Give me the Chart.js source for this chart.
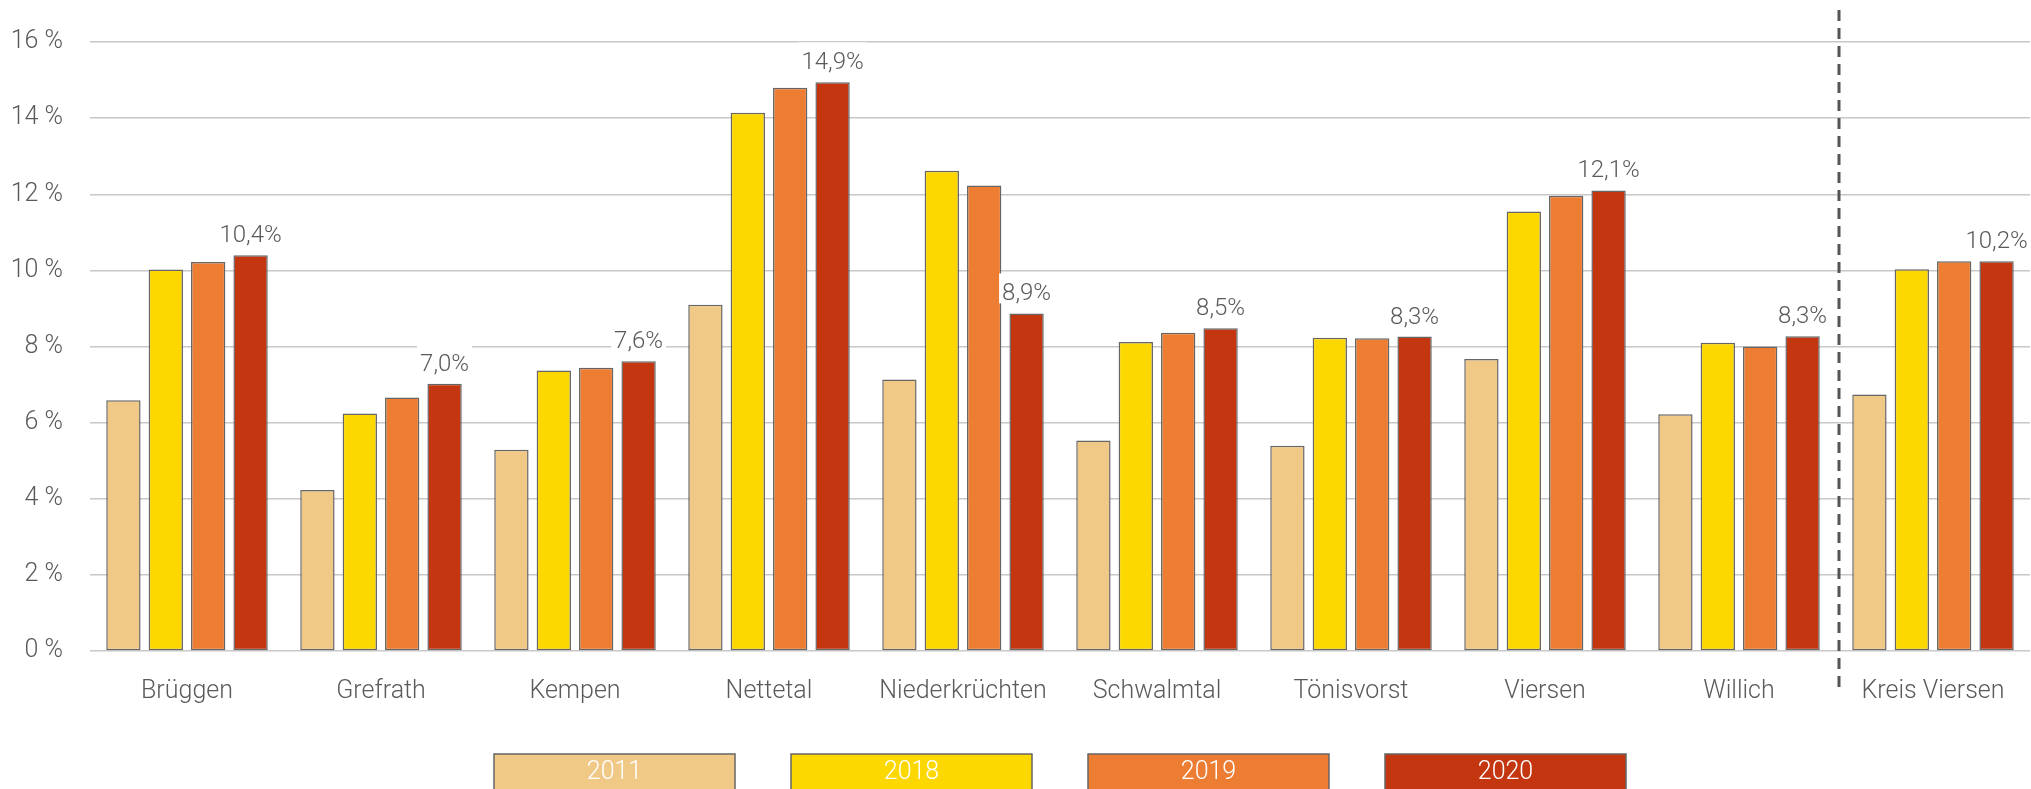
<!DOCTYPE html>
<html>
<head>
<meta charset="utf-8">
<script src="https://cdn.jsdelivr.net/npm/chart.js@4/dist/chart.umd.min.js"></script>
<style>
  html, body { margin: 0; padding: 0; background: #fff; }
  #wrap { width: 2031px; height: 789px; position: relative; }
</style>
</head>
<body>
<div id="wrap"><canvas id="myChart"></canvas></div>
<script>
// chart data
const towns = ['Brüggen', 'Grefrath', 'Kempen', 'Nettetal', 'Niederkrüchten', 'Schwalmtal', 'Tönisvorst', 'Viersen', 'Willich', 'Kreis Viersen'];
const years = ['2011', '2018', '2019', '2020'];
const values2011 = [6.59, 4.23, 5.29, 9.10, 7.13, 5.53, 5.39, 7.67, 6.22, 6.74];
const values2018 = [10.02, 6.24, 7.37, 14.14, 12.62, 8.12, 8.23, 11.55, 8.10, 10.03];
const values2019 = [10.22, 6.66, 7.44, 14.80, 12.23, 8.36, 8.22, 11.96, 8.00, 10.24];
const values2020 = [10.40, 7.02, 7.61, 14.94, 8.87, 8.48, 8.26, 12.10, 8.27, 10.24];
const yTicks = [0, 2, 4, 6, 8, 10, 12, 14, 16];

const colors = ['#F0C987', '#FDD700', '#EC7D32', '#C4360F'];
const textColor = '#5a5a5a';
const fontFam = 'Roboto, "DejaVu Sans", sans-serif';

//draws the value labels above the 2020 bars
const valueLabels = {
  id: 'valueLabels',
  afterDatasetsDraw(chart) {
    const ctx = chart.ctx;
    const meta = chart.getDatasetMeta(3);
    const data = chart.data.datasets[3].data;
    ctx.save();
    ctx.font = '300 24px ' + fontFam;
    ctx.textAlign = 'center';
    ctx.textBaseline = 'alphabetic';
    meta.data.forEach(function (bar, i) {
      const txt = data[i].toFixed(1).replace('.', ',') + '%';
      const w = ctx.measureText(txt).width;
      const yb = bar.y - 13;
      ctx.fillStyle = '#fff';
      ctx.fillRect(bar.x - w / 2 - 3, yb - 27, w + 6, 30);
      ctx.fillStyle = textColor;
      ctx.fillText(txt, bar.x, yb);
    });
    ctx.restore();
  }
};

//dashed divider before the district total
const divider = {
  id: 'divider',
  afterDraw(chart) {
    const x = chart.scales.x;
    const n = towns.length;
    const px = (x.getPixelForValue(n - 2) + x.getPixelForValue(n - 1)) / 2 + 3;
    const ctx = chart.ctx;
    ctx.save();
    ctx.strokeStyle = '#555';
    ctx.lineWidth = 3;
    ctx.setLineDash([11, 7]);
    ctx.beginPath();
    ctx.moveTo(px, 10);
    ctx.lineTo(px, 693);
    ctx.stroke();
    ctx.restore();
  }
};

//legend boxes with the year written inside
const boxLegend = {
  id: 'boxLegend',
  afterDraw(chart) {
    const ctx = chart.ctx;
    const area = chart.chartArea;
    const bw = 241, gap = 56, top = 754, bh = 44;
    const sets = chart.data.datasets;
    const total = sets.length * bw + (sets.length - 1) * gap;
    let x0 = (area.left + area.right) / 2 - total / 2;
    ctx.save();
    ctx.font = '300 25px ' + fontFam;
    ctx.textAlign = 'center';
    ctx.textBaseline = 'middle';
    sets.forEach(function (ds, i) {
      const x = x0 + i * (bw + gap);
      ctx.fillStyle = ds.backgroundColor;
      ctx.fillRect(x, top, bw, bh);
      ctx.strokeStyle = '#666';
      ctx.lineWidth = 1.5;
      ctx.strokeRect(x, top, bw, bh);
      ctx.fillStyle = '#fff';
      ctx.fillText(ds.label, x + bw / 2, top + 19);
    });
    ctx.restore();
  }
};

const seriesValues = [values2011, values2018, values2019, values2020];

const myChart = new Chart(document.getElementById('myChart').getContext('2d'), {
  type: 'bar',
  data: {
    labels: towns,
    datasets: years.map(function (y, i) {
      return {
        label: y,
        data: seriesValues[i],
        backgroundColor: colors[i],
        borderColor: '#666',
        borderWidth: 1.5,
        borderSkipped: false,
        categoryPercentage: 0.874,
        barPercentage: 0.81
      };
    })
  },
  options: {
    responsive: true,
    maintainAspectRatio: false,
    animation: false,
    layout: { padding: { top: 42, right: 1, left: 0, bottom: 0 } },
    plugins: {
      legend: { display: false },
      tooltip: { enabled: false }
    },
    scales: {
      x: {
        grid: { display: false },
        border: { display: false },
        ticks: {
          color: textColor,
          font: { family: fontFam, size: 25, weight: '300' },
          padding: 18,
          maxRotation: 0,
          autoSkip: false
        },
        afterFit: function (scale) { scale.height = 138; }
      },
      y: {
        min: 0,
        max: 16,
        afterBuildTicks: function (scale) {
          scale.ticks = yTicks.map(function (v) { return { value: v }; });
        },
        grid: { color: '#c8c8c8', lineWidth: 1.5, drawTicks: false },
        border: { display: false },
        ticks: {
          color: textColor,
          font: { family: fontFam, size: 25, weight: '300' },
          padding: 27,
          callback: function (v) { return v + ' %'; }
        },
        afterFit: function (scale) { scale.width = 90; }
      }
    }
  },
  plugins: [valueLabels, divider, boxLegend]
});
</script>
</body>
</html>
